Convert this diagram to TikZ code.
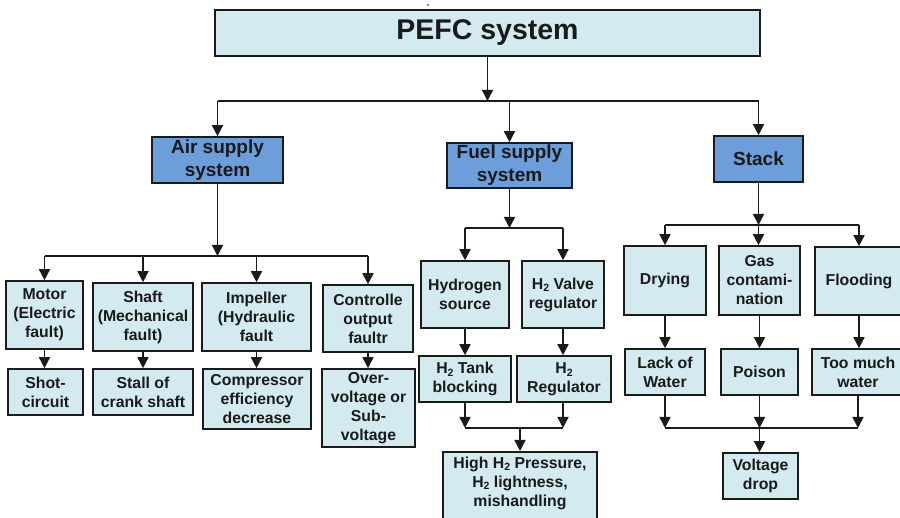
\documentclass[tikz,border=0pt]{standalone}
\usepackage{fontspec}
\setmainfont{Liberation Sans}
\usetikzlibrary{arrows.meta}
\definecolor{boxlight}{HTML}{D3EAF0}
\definecolor{boxdark}{HTML}{6D9EDC}
\definecolor{ink}{HTML}{1A1A1A}
\newcommand\htwo{H\raisebox{-0.35ex}{\fontsize{10.5}{10.5}\selectfont 2}}
\tikzset{
  box/.style={draw=ink, line width=1.6pt, fill=boxlight, align=center, inner sep=0pt,
    text=ink, font=\bfseries\fontsize{15.8}{19}\selectfont},
  head/.style={box, fill=boxdark, font=\bfseries\fontsize{19}{23}\selectfont},
  titlebox/.style={box, font=\bfseries\fontsize{28.5}{30}\selectfont},
  arr/.style={draw=ink, line width=1.5pt, -{Triangle[length=11pt,width=11pt]}},
  bus/.style={draw=ink, line width=1.5pt},
  plain/.style={align=center, inner sep=0pt, text=ink, font=\bfseries\fontsize{15.8}{19}\selectfont},
}
\begin{document}
\begin{tikzpicture}[x=1pt, y=-1pt]
\useasboundingbox (0,0) rectangle (900,518);
\fill[ink] (428,5) circle (0.9);

% top level
\node[titlebox, minimum width=545pt, minimum height=46pt] (pefc) at (487.5,33) {PEFC system};

% subsystems
\node[head, minimum width=131pt, minimum height=46pt] (air) at (217.5,160) {Air supply\\system};
\node[head, minimum width=125pt, minimum height=45pt] (fuel) at (509.5,165.5) {Fuel supply\\system};
\node[head, minimum width=89pt, minimum height=46pt] (stack) at (758.5,159) {Stack};

% air supply branch
\node[box, minimum width=77pt, minimum height=68pt] (motor) at (44.5,315) {Motor\\(Electric\\fault)};
\node[box, minimum width=75pt, minimum height=46pt] (shot) at (45.5,392) {Shot-\\circuit};
\node[box, minimum width=100pt, minimum height=68pt] (shaft) at (143,317) {Shaft\\(Mechanical\\fault)};
\node[box, minimum width=100pt, minimum height=46pt] (stall) at (143,392) {Stall of\\crank shaft};
\node[box, minimum width=109pt, minimum height=68pt] (imp) at (256.5,317) {Impeller\\(Hydraulic\\fault};
\node[box, minimum width=108pt, minimum height=60pt] (comp) at (257,399) {Compressor\\efficiency\\decrease};
\node[box, minimum width=90pt, minimum height=67pt] (ctrl) at (368,318.5) {Controlle\\output\\faultr};
\node[box, minimum width=93pt, minimum height=78pt] (volt) at (368.5,408) {Over-\\voltage or\\Sub-\\voltage};

% fuel supply branch
\node[box, minimum width=88pt, minimum height=67pt] (hsrc) at (465,294.5) {Hydrogen\\source};
\node[box, minimum width=82pt, minimum height=67pt] (valve) at (563,294.5) {\htwo{} Valve\\regulator};
\node[box, minimum width=92pt, minimum height=46pt] (tank) at (465,379) {\htwo{} Tank\\blocking};
\node[box, minimum width=94pt, minimum height=46pt] (hreg) at (564,379) {\htwo\\Regulator};
\node[box, minimum width=154pt, minimum height=74pt, anchor=north] (high) at (520,451) {};
\node[plain] at (520,483) {High \htwo{} Pressure,\\\htwo{} lightness,\\mishandling};

% stack branch
\node[box, minimum width=82pt, minimum height=69pt] (dry) at (665,280.5) {Drying};
\node[box, minimum width=81pt, minimum height=69pt] (gas) at (759.5,280.5) {Gas\\contami-\\nation};
\node[box, minimum width=88pt, minimum height=68pt] (flood) at (859,281) {Flooding};
\node[box, minimum width=80pt, minimum height=46pt] (lack) at (665,372) {Lack of\\Water};
\node[box, minimum width=77pt, minimum height=46pt] (poison) at (759.5,372) {Poison};
\node[box, minimum width=92pt, minimum height=46pt] (much) at (858,372) {Too much\\water};
\node[box, minimum width=75pt, minimum height=46pt] (vdrop) at (760.5,476) {Voltage\\drop};

% junction lines
\coordinate (jtop) at (0,101);
\coordinate (jair) at (0,256);
\coordinate (jfuel) at (0,228);
\coordinate (jstack) at (0,225);
\coordinate (jh2) at (0,428);
\coordinate (jst) at (0,428);

% top level connectors
\draw[arr] (pefc.south) -- (pefc.south |- jtop);
\draw[bus] (jtop -| air.north) -- (jtop -| stack.north);
\draw[arr] (jtop -| air.north) -- (air.north);
\draw[arr] (jtop -| fuel.north) -- (fuel.north);
\draw[arr] (jtop -| stack.north) -- (stack.north);

% air supply connectors
\draw[arr] (air.south) -- (air.south |- jair);
\draw[bus] (jair -| motor.north) -- (jair -| ctrl.north);
\foreach \n in {motor,shaft,imp,ctrl} \draw[arr] (jair -| \n.north) -- (\n.north);
\draw[arr] (motor.south) -- (motor.south |- shot.north);
\draw[arr] (shaft.south) -- (stall.north);
\draw[arr] (imp.south) -- (imp.south |- comp.north);
\draw[arr] (ctrl.south) -- (ctrl.south |- volt.north);

% fuel supply connectors
\draw[arr] (fuel.south) -- (fuel.south |- jfuel);
\draw[bus] (jfuel -| hsrc.north) -- (jfuel -| valve.north);
\draw[arr] (jfuel -| hsrc.north) -- (hsrc.north);
\draw[arr] (jfuel -| valve.north) -- (valve.north);
\draw[arr] (hsrc.south) -- (tank.north);
\draw[arr] (valve.south) -- (valve.south |- hreg.north);
\draw[arr] (tank.south) -- (tank.south |- jh2);
\draw[arr] (valve.south |- hreg.south) -- (valve.south |- jh2);
\draw[bus] (jh2 -| tank.south) -- (jh2 -| valve.south);
\draw[arr] (jh2 -| high.north) -- (high.north);

% stack connectors
\draw[arr] (stack.south) -- (stack.south |- jstack);
\draw[bus] (jstack -| dry.north) -- (jstack -| flood.north);
\draw[arr] (jstack -| dry.north) -- (dry.north);
\draw[arr] (stack.south |- jstack) -- (stack.south |- gas.north);
\draw[arr] (jstack -| flood.north) -- (flood.north);
\draw[arr] (dry.south) -- (lack.north);
\draw[arr] (gas.south) -- (poison.north);
\draw[arr] (flood.south) -- (flood.south |- much.north);
\draw[arr] (lack.south) -- (lack.south |- jst);
\draw[arr] (poison.south) -- (poison.south |- jst);
\draw[arr] (much.south) -- (much.south |- jst);
\draw[bus] (jst -| lack.south) -- (jst -| much.south);
\draw[arr] (poison.south |- jst) -- (poison.south |- vdrop.north);
\end{tikzpicture}
\end{document}
